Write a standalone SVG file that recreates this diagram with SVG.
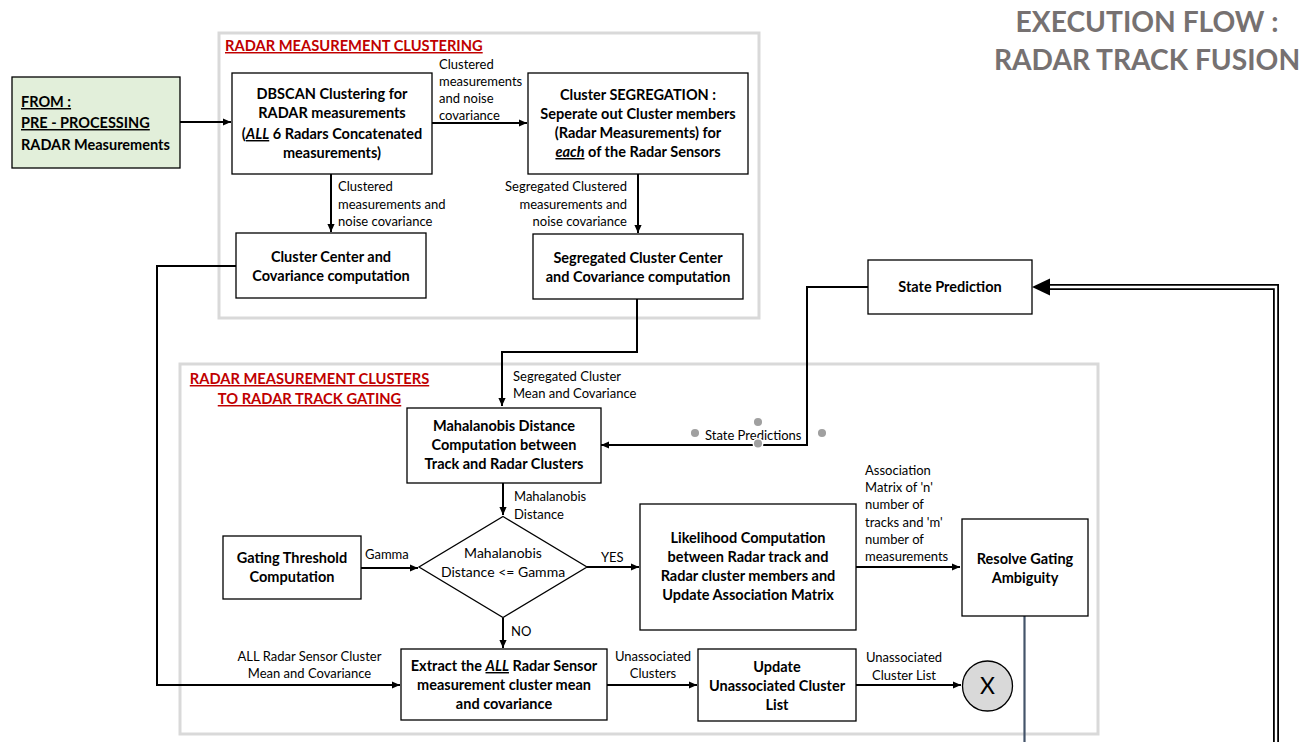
<svg xmlns="http://www.w3.org/2000/svg" width="1311" height="742" viewBox="0 0 1311 742">
<defs>
<style>
.n{font-family:Lato,'Liberation Sans',sans-serif;font-weight:bold;font-size:14.5px;fill:#000;text-anchor:middle}
.ns{font-family:Lato,'Liberation Sans',sans-serif;font-weight:bold;font-size:14.5px;fill:#000;text-anchor:start}
.l{font-family:Lato,'Liberation Sans',sans-serif;font-size:13px;fill:#000}
.d{font-family:Lato,'Liberation Sans',sans-serif;font-size:14px;fill:#000;text-anchor:middle}
.g{font-family:Lato,'Liberation Sans',sans-serif;font-weight:bold;font-size:14.7px;fill:#C00000;text-decoration:underline}
.t{font-family:Lato,'Liberation Sans',sans-serif;font-weight:bold;font-size:28.2px;fill:#767171;text-anchor:middle}
.box{fill:#fff;stroke:#000;stroke-width:1.3}
.grp{fill:none;stroke:#D9D9D9;stroke-width:3}
.c{fill:none;stroke:#000;stroke-width:2}
.dot{fill:#A0A0A0;stroke:#fff;stroke-width:1.5}
</style>
<marker id="arr" viewBox="0 0 10 10" refX="10" refY="5" markerWidth="9" markerHeight="8" markerUnits="userSpaceOnUse" orient="auto">
<path d="M0,0.5 L10,5 L0,9.5 z" fill="#000"/>
</marker>
</defs>
<rect width="1311" height="742" fill="#fff"/>

<g id="title">
<text class="t" x="1147" y="32">EXECUTION FLOW :</text>
<text class="t" x="1147" y="70">RADAR TRACK FUSION</text>
</g>

<g id="group-clustering">
<rect class="grp" x="219" y="33" width="540" height="285"/>
<text class="g" x="225" y="51">RADAR MEASUREMENT CLUSTERING</text>
</g>

<g id="group-gating">
<rect class="grp" x="180" y="364" width="918" height="370"/>
<text class="g" x="309.5" y="384" text-anchor="middle">RADAR MEASUREMENT CLUSTERS</text>
<text class="g" x="309.5" y="404" text-anchor="middle">TO RADAR TRACK GATING</text>
</g>

<g id="connectors">
<path class="c" d="M180,122 H231" marker-end="url(#arr)"/>
<path class="c" d="M432,123 H527" marker-end="url(#arr)"/>
<path class="c" d="M331,174 V232" marker-end="url(#arr)"/>
<path class="c" d="M236,266 H157 V685 H400" marker-end="url(#arr)"/>
<path class="c" d="M638,174 V233" marker-end="url(#arr)"/>
<path class="c" d="M637,299 V352 H502 V406" marker-end="url(#arr)"/>
<path class="c" d="M868,287 H807 V445 H601" marker-end="url(#arr)"/>
<path class="c" d="M503,483 V515" marker-end="url(#arr)"/>
<path class="c" d="M361,568 H418" marker-end="url(#arr)"/>
<path class="c" d="M587,567 H639" marker-end="url(#arr)"/>
<path class="c" d="M856,567 H960" marker-end="url(#arr)"/>
<path class="c" d="M503,618 V648" marker-end="url(#arr)"/>
<path class="c" d="M607,685 H697" marker-end="url(#arr)"/>
<path class="c" d="M856,685 H961" marker-end="url(#arr)"/>
<path d="M1024.5,616 V742" fill="none" stroke="#44546A" stroke-width="2.2"/>
<path d="M1276,742 V287 H1046" fill="none" stroke="#000" stroke-width="6"/>
<path d="M1276,742 V287 H1046" fill="none" stroke="#fff" stroke-width="2.4"/>
<polygon points="1032,287 1050,278.5 1050,295.5" fill="#000"/>

<text class="l" x="439" y="69">Clustered</text>
<text class="l" x="439" y="86">measurements</text>
<text class="l" x="439" y="103">and noise</text>
<text class="l" x="439" y="120">covariance</text>

<text class="l" x="338" y="191">Clustered</text>
<text class="l" x="338" y="209">measurements and</text>
<text class="l" x="338" y="226">noise covariance</text>

<text class="l" x="627" y="191" text-anchor="end">Segregated Clustered</text>
<text class="l" x="627" y="209" text-anchor="end">measurements and</text>
<text class="l" x="627" y="226" text-anchor="end">noise covariance</text>

<text class="l" x="513" y="381">Segregated Cluster</text>
<text class="l" x="513" y="398">Mean and Covariance</text>

<text class="l" x="705" y="440">State Predictions</text>
<circle class="dot" cx="695" cy="433" r="4.8"/>
<circle class="dot" cx="758" cy="422" r="4.8"/>
<circle class="dot" cx="758" cy="443.5" r="4.8"/>
<circle class="dot" cx="822" cy="433" r="4.8"/>

<text class="l" x="514" y="501">Mahalanobis</text>
<text class="l" x="514" y="519">Distance</text>

<text class="l" x="365" y="559">Gamma</text>
<text class="l" x="601" y="562">YES</text>
<text class="l" x="511" y="636">NO</text>

<text class="l" x="865" y="475">Association</text>
<text class="l" x="865" y="492">Matrix of 'n'</text>
<text class="l" x="865" y="509">number of</text>
<text class="l" x="865" y="527">tracks and 'm'</text>
<text class="l" x="865" y="544">number of</text>
<text class="l" x="865" y="561">measurements</text>

<text class="l" x="309.5" y="661" text-anchor="middle">ALL Radar Sensor Cluster</text>
<text class="l" x="309.5" y="678" text-anchor="middle">Mean and Covariance</text>

<text class="l" x="653" y="661" text-anchor="middle">Unassociated</text>
<text class="l" x="653" y="678" text-anchor="middle">Clusters</text>

<text class="l" x="904" y="662" text-anchor="middle">Unassociated</text>
<text class="l" x="904" y="680" text-anchor="middle">Cluster List</text>
</g>

<g id="node-from">
<rect x="12" y="77" width="168" height="91" fill="#E2EFDA" stroke="#000" stroke-width="1.3"/>
<text class="ns" x="21" y="107" text-decoration="underline">FROM :</text>
<text class="ns" x="21" y="128" text-decoration="underline">PRE - PROCESSING</text>
<text class="ns" x="21" y="150">RADAR Measurements</text>
</g>

<g id="node-dbscan">
<rect class="box" x="232" y="73" width="200" height="101"/>
<text class="n" x="332" y="99">DBSCAN Clustering for</text>
<text class="n" x="332" y="118">RADAR measurements</text>
<text class="n" x="332" y="139">(<tspan font-style="italic" text-decoration="underline">ALL</tspan> 6 Radars Concatenated</text>
<text class="n" x="332" y="158">measurements)</text>
</g>

<g id="node-segregation">
<rect class="box" x="528" y="73" width="220" height="101"/>
<text class="n" x="638" y="100">Cluster SEGREGATION :</text>
<text class="n" x="638" y="119">Seperate out Cluster members</text>
<text class="n" x="638" y="138">(Radar Measurements) for</text>
<text class="n" x="638" y="157"><tspan font-style="italic" text-decoration="underline">each</tspan> of the Radar Sensors</text>
</g>

<g id="node-cluster-center">
<rect class="box" x="236" y="233" width="190" height="65"/>
<text class="n" x="331" y="262">Cluster Center and</text>
<text class="n" x="331" y="281">Covariance computation</text>
</g>

<g id="node-seg-cluster-center">
<rect class="box" x="533" y="234" width="210" height="65"/>
<text class="n" x="638" y="263">Segregated Cluster Center</text>
<text class="n" x="638" y="282">and Covariance computation</text>
</g>

<g id="node-state-prediction">
<rect class="box" x="868" y="260" width="164" height="54"/>
<text class="n" x="950" y="292">State Prediction</text>
</g>

<g id="node-mahalanobis">
<rect class="box" x="407" y="408" width="194" height="75"/>
<text class="n" x="504" y="431">Mahalanobis Distance</text>
<text class="n" x="504" y="450">Computation between</text>
<text class="n" x="504" y="469">Track and Radar Clusters</text>
</g>

<g id="node-gating-threshold">
<rect class="box" x="223" y="536" width="138" height="63"/>
<text class="n" x="292" y="563">Gating Threshold</text>
<text class="n" x="292" y="582">Computation</text>
</g>

<g id="node-decision">
<polygon points="503,516.5 587,567 503,617.5 419,567" fill="#fff" stroke="#000" stroke-width="1.3"/>
<text class="d" x="503" y="558">Mahalanobis</text>
<text class="d" x="503" y="577">Distance &lt;= Gamma</text>
</g>

<g id="node-likelihood">
<rect class="box" x="640" y="504" width="216" height="126"/>
<text class="n" x="748" y="543">Likelihood Computation</text>
<text class="n" x="748" y="562">between Radar track and</text>
<text class="n" x="748" y="581">Radar cluster members and</text>
<text class="n" x="748" y="600">Update Association Matrix</text>
</g>

<g id="node-resolve">
<rect class="box" x="962" y="519" width="126" height="97"/>
<text class="n" x="1025" y="564">Resolve Gating</text>
<text class="n" x="1025" y="583">Ambiguity</text>
</g>

<g id="node-extract">
<rect class="box" x="401" y="649" width="206" height="71"/>
<text class="n" x="504" y="671">Extract the <tspan font-style="italic" text-decoration="underline">ALL</tspan> Radar Sensor</text>
<text class="n" x="504" y="690">measurement cluster mean</text>
<text class="n" x="504" y="709">and covariance</text>
</g>

<g id="node-update">
<rect class="box" x="698" y="649" width="158" height="72"/>
<text class="n" x="777" y="672">Update</text>
<text class="n" x="777" y="691">Unassociated Cluster</text>
<text class="n" x="777" y="710">List</text>
</g>

<g id="node-x">
<circle cx="987.5" cy="686" r="25" fill="#D9D9D9" stroke="#000" stroke-width="1.3"/>
<text x="987.5" y="694" text-anchor="middle" font-family="Lato,'Liberation Sans',sans-serif" font-size="23" fill="#000">X</text>
</g>
</svg>
